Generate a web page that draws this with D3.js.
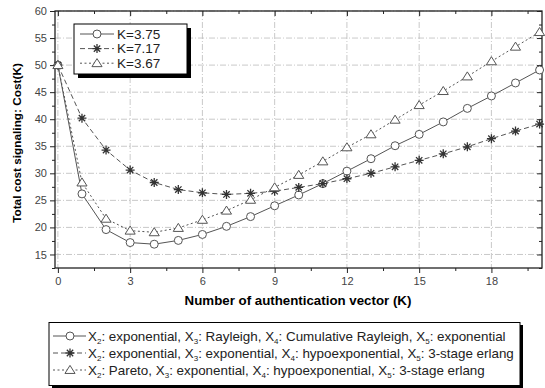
<!DOCTYPE html>
<html><head><meta charset="utf-8">
<script src="https://cdn.jsdelivr.net/npm/d3@7"></script>
<style>body{margin:0;background:#fff}svg{font-family:"Liberation Sans",Arial,sans-serif}</style>
</head><body><svg id="c" width="545" height="388"></svg>
<script>
const K = [0,1,2,3,4,5,6,7,8,9,10,11,12,13,14,15,16,17,18,19,20];
const costA = [50,26.2,19.6,17.2,16.9,17.6,18.7,20.2,22.0,24.0,26.0,28.1,30.4,32.7,35.1,37.2,39.5,42.0,44.3,46.7,49.1]; // K=3.75
const costB = [50,40.2,34.3,30.6,28.3,27.0,26.4,26.1,26.3,26.7,27.4,28.1,29.0,30.0,31.2,32.4,33.6,34.9,36.4,37.8,39.1]; // K=7.17
const costC = [50,28.3,21.6,19.4,19.1,19.9,21.4,23.1,25.1,27.4,29.7,32.2,34.8,37.2,39.9,42.6,45.2,47.9,50.7,53.4,56.1]; // K=3.67
const xTicks = [0,3,6,9,12,15,18];
const yTicks = [15,20,25,30,35,40,45,50,55,60];
const seriesNames = ["K=3.75","K=7.17","K=3.67"];
const bottomLegend = [
  [["X","2",": exponential, "],["X","3",": Rayleigh, "],["X","4",": Cumulative Rayleigh, "],["X","5",": exponential"]],
  [["X","2",": exponential, "],["X","3",": exponential, "],["X","4",": hypoexponential, "],["X","5",": 3-stage erlang"]],
  [["X","2",": Pareto, "],["X","3",": exponential, "],["X","4",": hypoexponential, "],["X","5",": 3-stage erlang"]]
];

const svg = d3.select("#c");
const L=55, R=542, T=11, B=268;
const x = d3.scaleLinear().domain([-0.12,20.1]).range([L,R]);
const y = d3.scaleLinear().domain([12.5,60]).range([B,T]);
const lineCol="#555", markCol="#555";
const styles=[
  {dash:null, marker:"circle", data:costA},
  {dash:"5,3", marker:"star", data:costB},
  {dash:"2,2.5", marker:"tri", data:costC}
];

// grid
const g = svg.append("g");
g.selectAll(".gx").data(xTicks).join("line")
  .attr("x1",d=>x(d)).attr("x2",d=>x(d)).attr("y1",T).attr("y2",B)
  .attr("stroke","#bbb").attr("stroke-width",0.8).attr("stroke-dasharray","6,2,1,2");
g.selectAll(".gy").data(yTicks).join("line")
  .attr("y1",d=>y(d)).attr("y2",d=>y(d)).attr("x1",L).attr("x2",R)
  .attr("stroke","#bbb").attr("stroke-width",0.8).attr("stroke-dasharray","6,2,1,2");

// axes
const xMinor = d3.range(0,20.1,1.5).filter(v=>!xTicks.includes(v));
const yMinor = d3.range(12.5,60.1,2.5).filter(v=>!yTicks.includes(v));
const bottom = d3.axisBottom(x).tickValues(xTicks).tickSize(5).tickSizeOuter(0).tickPadding(4);
const left = d3.axisLeft(y).tickValues(yTicks).tickSize(5).tickSizeOuter(0).tickPadding(3);
svg.append("g").attr("transform",`translate(0,${B})`).call(bottom);
svg.append("g").attr("transform",`translate(${L},0)`).call(left);
svg.append("g").attr("transform",`translate(0,${T})`).call(d3.axisTop(x).tickValues(xTicks).tickSize(-5).tickSizeOuter(0).tickFormat(""));
svg.append("g").attr("transform",`translate(${R},0)`).call(d3.axisRight(y).tickValues(yTicks).tickSize(-5).tickSizeOuter(0).tickFormat(""));
svg.append("g").attr("transform",`translate(0,${B})`).call(d3.axisBottom(x).tickValues(xMinor).tickSize(3).tickSizeOuter(0).tickFormat(""));
svg.append("g").attr("transform",`translate(${L},0)`).call(d3.axisLeft(y).tickValues(yMinor).tickSize(3).tickSizeOuter(0).tickFormat(""));
svg.append("g").attr("transform",`translate(0,${T})`).call(d3.axisTop(x).tickValues(xMinor).tickSize(-3).tickSizeOuter(0).tickFormat(""));
svg.append("g").attr("transform",`translate(${R},0)`).call(d3.axisRight(y).tickValues(yMinor).tickSize(-3).tickSizeOuter(0).tickFormat(""));
svg.selectAll(".domain").remove();
svg.selectAll(".tick line").attr("stroke","#222");
svg.selectAll(".tick text").attr("font-size",11).attr("fill","#444").attr("font-family","Liberation Sans, Arial");
svg.append("rect").attr("x",L).attr("y",T).attr("width",R-L).attr("height",B-T).attr("fill","none").attr("stroke","#222").attr("stroke-width",1.3);

// markers
function drawMarker(sel,type,cx,cy,s){
  if(type==="circle"){
    sel.append("circle").attr("cx",cx).attr("cy",cy).attr("r",s).attr("fill","#fff").attr("stroke",markCol).attr("stroke-width",1);
  } else if(type==="tri"){
    const h=s*1.15;
    sel.append("path").attr("d",`M${cx},${cy-h} L${cx+h*1.1},${cy+h*0.75} L${cx-h*1.1},${cy+h*0.75}Z`).attr("fill","#fff").attr("stroke",markCol).attr("stroke-width",1);
  } else {
    const r=s+0.5;
    let d="";
    for(let i=0;i<4;i++){const a=i*Math.PI/4;d+=`M${cx-r*Math.cos(a)},${cy-r*Math.sin(a)}L${cx+r*Math.cos(a)},${cy+r*Math.sin(a)}`;}
    sel.append("path").attr("d",d).attr("stroke","#333").attr("stroke-width",1.3);
  }
}
const line = d3.line().x((d,i)=>x(K[i])).y(d=>y(d));
styles.forEach(s=>{
  svg.append("path").datum(s.data).attr("d",line).attr("fill","none").attr("stroke",lineCol).attr("stroke-width",1).attr("stroke-dasharray",s.dash);
});
styles.forEach(s=>{
  const gm=svg.append("g");
  s.data.forEach((v,i)=>drawMarker(gm,s.marker,x(K[i]),y(v),4));
});

// axis titles
svg.append("text").attr("x",298).attr("y",305).attr("text-anchor","middle").attr("font-weight","bold").attr("font-size",13.3).text("Number of authentication vector (K)");
svg.append("text").attr("transform",`translate(21,143) rotate(-90)`).attr("text-anchor","middle").attr("font-weight","bold").attr("font-size",11.8).text("Total cost signaling: Cost(K)");

// inner legend
const lg=svg.append("g");
lg.append("rect").attr("x",78).attr("y",28).attr("width",113).attr("height",50).attr("fill","#000");
lg.append("rect").attr("x",74).attr("y",24).attr("width",113).attr("height",50).attr("fill","#fff").attr("stroke","#000").attr("stroke-width",1);
seriesNames.forEach((n,i)=>{
  const yy=34+i*14.6;
  lg.append("line").attr("x1",80).attr("x2",114).attr("y1",yy).attr("y2",yy).attr("stroke",lineCol).attr("stroke-dasharray",styles[i].dash);
  drawMarker(lg,styles[i].marker,97,yy,4);
  lg.append("text").attr("x",117).attr("y",yy+4.5).attr("font-size",13.5).attr("fill","#222").text(n);
});

// bottom legend
const bl=svg.append("g");
bl.append("rect").attr("x",52).attr("y",325).attr("width",471).attr("height",63).attr("fill","#000");
bl.append("rect").attr("x",49).attr("y",322.5).attr("width",471).attr("height",63).attr("fill","#fff").attr("stroke","#000").attr("stroke-width",1);
bottomLegend.forEach((parts,i)=>{
  const yy=336+i*17;
  bl.append("line").attr("x1",53).attr("x2",86).attr("y1",yy).attr("y2",yy).attr("stroke",lineCol).attr("stroke-dasharray",styles[i].dash);
  drawMarker(bl,styles[i].marker,70,yy,4);
  const t=bl.append("text").attr("x",88).attr("y",yy+4.5).attr("font-size",13.4).attr("fill","#222");
  parts.forEach(p=>{
    t.append("tspan").text(p[0]);
    t.append("tspan").attr("font-size",8).attr("dy",3).text(p[1]);
    t.append("tspan").attr("dy",-3).text(p[2]);
  });
});
</script></body></html>
